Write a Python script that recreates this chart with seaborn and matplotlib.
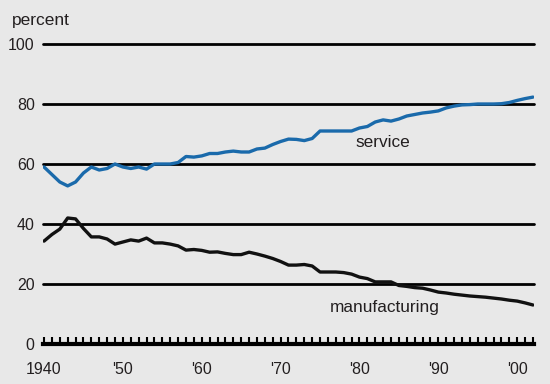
import numpy as np
import pandas as pd
import matplotlib.pyplot as plt
import seaborn as sns

# Annual share of employment, 1940-2002 (percent)
years = list(range(1940, 2003))
service = [59, 56.5, 54, 52.7, 54, 57, 59, 58, 58.5, 60,
           59, 58.5, 59, 58.3, 60, 60, 60, 60.5, 62.5, 62.3,
           62.7, 63.5, 63.5, 64, 64.3, 64, 64, 65, 65.3, 66.5,
           67.5, 68.3, 68.2, 67.8, 68.5, 71, 71, 71, 71, 71,
           72, 72.5, 74, 74.7, 74.3, 75, 76, 76.5, 77, 77.3,
           77.7, 78.7, 79.3, 79.7, 79.8, 80, 80, 80, 80.1, 80.5,
           81.2, 81.8, 82.3]
manufacturing = [34.3, 36.5, 38.3, 42, 41.7, 38.5, 35.7, 35.7, 35, 33.3,
                 34, 34.7, 34.3, 35.3, 33.7, 33.7, 33.3, 32.7, 31.3, 31.5,
                 31.2, 30.6, 30.7, 30.2, 29.8, 29.8, 30.6, 30, 29.3, 28.5,
                 27.5, 26.3, 26.3, 26.5, 26, 24, 24, 24, 23.8, 23.3,
                 22.3, 21.8, 20.7, 20.7, 20.7, 19.5, 19.2, 18.8, 18.6, 18,
                 17.3, 17, 16.6, 16.3, 16, 15.8, 15.6, 15.3, 15, 14.6,
                 14.3, 13.7, 13]
y_ticks = [0, 20, 40, 60, 80, 100]
x_ticks = [1940, 1950, 1960, 1970, 1980, 1990, 2000]
x_labels = ["1940", "'50", "'60", "'70", "'80", "'90", "'00"]

df = pd.DataFrame({"year": years, "service": service, "manufacturing": manufacturing})

bg = "#e8e8e8"
txt = "#231f20"
blue = "#1a6aab"

sns.set_theme(style="white")
plt.rcParams["font.family"] = ["Liberation Sans", "DejaVu Sans"]

fig = plt.figure(figsize=(5.5, 3.84), dpi=100, facecolor=bg)
ax = fig.add_axes([43 / 550, 40 / 384, 491 / 550, 300 / 384])
ax.set_facecolor(bg)

# horizontal rules
for v in y_ticks[1:]:
    ax.axhline(v, color="black", lw=2.0, clip_on=False, zorder=1)

sns.lineplot(data=df, x="year", y="service", color=blue, lw=2.4, ax=ax, zorder=3)
sns.lineplot(data=df, x="year", y="manufacturing", color="#111111", lw=2.4, ax=ax, zorder=3)

ax.set_xlim(1939.87, 2002.13)
ax.set_ylim(0, 100)
for s in ["top", "right", "left"]:
    ax.spines[s].set_visible(False)
ax.spines["bottom"].set_linewidth(3)
ax.spines["bottom"].set_color("black")

ax.set_xticks(x_ticks)
ax.set_xticklabels(x_labels)
ax.set_xticks(years, minor=True)
ax.tick_params(axis="x", which="both", direction="in", length=5, width=1.5,
               color="black", bottom=True, labelsize=11.5, labelcolor=txt, pad=13)
ax.set_yticks(y_ticks)
ax.tick_params(axis="y", length=0, labelsize=11.5, labelcolor=txt, pad=6)
ax.set_xlabel("")
ax.set_ylabel("")

fig.text(12 / 550, 1 - 21 / 384, "percent", fontsize=12.5, color=txt, va="center", ha="left")
ax.text(1979.5, 67.3, "service", fontsize=12.4, color=txt, va="center", ha="left")
ax.text(1976.2, 12.3, "manufacturing", fontsize=12.4, color=txt, va="center", ha="left")

fig.savefig("out.png", dpi=100, facecolor=bg)
